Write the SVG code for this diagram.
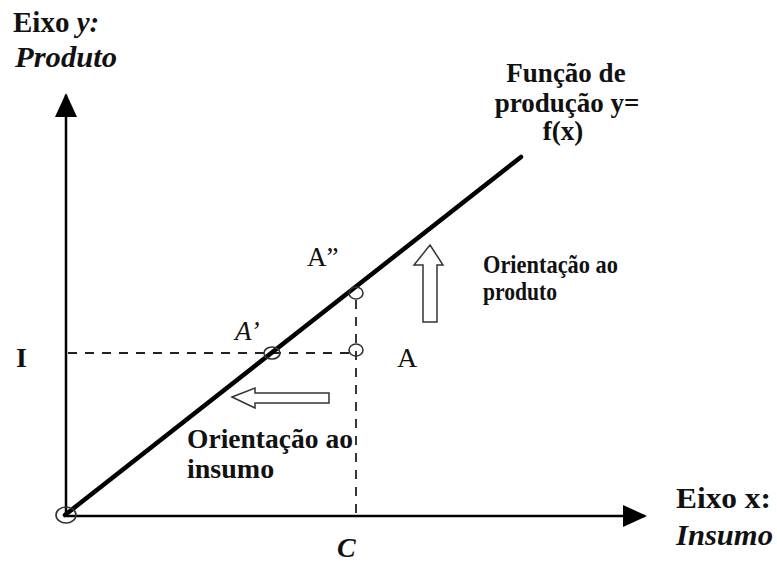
<svg xmlns="http://www.w3.org/2000/svg" width="777" height="563" viewBox="0 0 777 563">
<style>
text{font-family:"Liberation Serif","Times New Roman",serif;fill:#111}
.b{font-weight:bold}
.bi{font-weight:bold;font-style:italic}
.ax{stroke:#000;stroke-width:2.5;fill:none}
.dash{stroke:#222;stroke-width:1.8;stroke-dasharray:9,8;fill:none}
.pt{fill:none;stroke:#333;stroke-width:1.6}
.blk{fill:#fff;stroke:#333;stroke-width:1.5}
</style>
<defs>
<marker id="ah" viewBox="0 0 24 22" refX="22" refY="11" markerWidth="24" markerHeight="22" markerUnits="userSpaceOnUse" orient="auto">
<path d="M0,0 L24,11 L0,22 Z" fill="#000"/>
</marker>
</defs>
<g id="connectors">
<line class="ax" x1="66" y1="516" x2="66" y2="95" marker-end="url(#ah)"/>
<line class="ax" x1="66" y1="516" x2="645" y2="516" marker-end="url(#ah)"/>
<line class="dash" x1="68" y1="353" x2="350" y2="353"/>
<line class="dash" x1="356" y1="300" x2="356" y2="514"/>
<line id="frontier" x1="65" y1="515" x2="521" y2="157" stroke="#000" stroke-width="4.5" stroke-linecap="round"/>
</g>
<g id="origin"><ellipse class="pt" cx="66" cy="515" rx="10" ry="8"/></g>
<g id="pA"><ellipse class="pt" cx="356" cy="350" rx="7" ry="6"/><text x="397" y="367" font-size="28">A</text></g>
<g id="pA1"><ellipse class="pt" cx="272" cy="353" rx="8" ry="6"/><text x="235" y="340" font-size="27" font-style="italic">A’</text></g>
<g id="pA2"><ellipse class="pt" cx="356" cy="293" rx="7" ry="6"/><text x="307" y="266" font-size="27">A”</text></g>
<g id="arrowUp"><path class="blk" d="M430,245 L443,265 L437,265 L437,322 L423,322 L423,265 L414,265 Z"/></g>
<g id="arrowLeft"><path class="blk" d="M232,397 L255,388 L255,393 L329,393 L329,403 L255,403 L255,408 Z"/></g>
<g id="yLabel">
<text x="13" y="32" font-size="29" class="b">Eixo <tspan class="bi">y:</tspan></text>
<text x="15" y="67" font-size="30" class="bi" textLength="102" lengthAdjust="spacingAndGlyphs">Produto</text>
</g>
<g id="xLabel">
<text x="676" y="508" font-size="30" class="b" textLength="95" lengthAdjust="spacingAndGlyphs">Eixo x:</text>
<text x="676" y="545" font-size="30" class="bi" textLength="97" lengthAdjust="spacingAndGlyphs">Insumo</text>
</g>
<g id="funcLabel" class="b" font-size="27" text-anchor="middle">
<text x="566" y="82" class="b">Função de</text>
<text x="567" y="112" class="b">produção y=</text>
<text x="563" y="140" class="b">f(x)</text>
</g>
<g id="outLabel">
<text x="483" y="273" font-size="25" class="b" textLength="135" lengthAdjust="spacingAndGlyphs">Orientação ao</text>
<text x="483" y="300" font-size="25" class="b" textLength="74" lengthAdjust="spacingAndGlyphs">produto</text>
</g>
<g id="inLabel">
<text x="187" y="448" font-size="28" class="b" textLength="166" lengthAdjust="spacingAndGlyphs">Orientação ao</text>
<text x="187" y="478" font-size="28" class="b">insumo</text>
</g>
<g id="yTick"><text x="16" y="367" font-size="28" class="b">I</text></g>
<g id="xTick"><text x="337" y="557" font-size="28" class="bi">C</text></g>
</svg>
